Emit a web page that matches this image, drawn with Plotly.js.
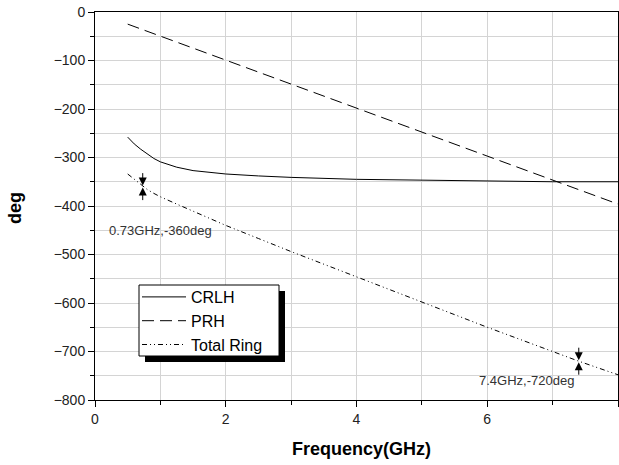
<!DOCTYPE html>
<html><head><meta charset="utf-8">
<script src="https://cdn.plot.ly/plotly-3.0.1.min.js"></script>
<style>html,body{margin:0;padding:0;background:#fff}</style>
</head><body><div id="chart" style="width:619px;height:465px"></div>
<script>
const freqCRLH = [0.5,0.6,0.7,0.8,0.9,1.0,1.25,1.5,2,2.5,3,4,5,6,7,8];
const crlh = [-258,-272,-283,-293,-302,-309,-320,-327,-334,-338,-341,-345,-347,-349,-350,-350];
const freqPRH = [0.5,2,4,6,8];
const prh = [-25,-99,-198,-297,-396];
const freqTotal = [0.5,0.6,0.73,0.8,0.9,1.0,1.25,1.5,2,2.5,3,4,5,6,7,7.4,8];
const total = [-334,-345,-360,-366,-374,-381,-396,-411,-440,-467,-494,-546,-598,-650,-700,-720,-748];
const markers = [{f:0.73, d:-360, label:'0.73GHz,-360deg', lx:1.0, ly:-450},
                 {f:7.4, d:-720, label:'7.4GHz,-720deg', lx:6.6, ly:-760}];

const font = 'Arial, "Liberation Sans", sans-serif';
const traces = [
 {x:freqCRLH, y:crlh, name:'CRLH', mode:'lines', line:{color:'#000', width:1, dash:'solid'}},
 {x:freqPRH, y:prh, name:'PRH', mode:'lines', line:{color:'#000', width:1, dash:'12px,6px'}},
 {x:freqTotal, y:total, name:'Total Ring', mode:'lines', line:{color:'#000', width:1, dash:'5px,3px,1px,3px,1px,3px'}}
];
const annotations = [];
markers.forEach(m => {
  annotations.push({x:m.f, y:m.d, xref:'x', yref:'y', text:'', showarrow:true, ax:0, ay:-15, arrowhead:2, arrowsize:1.6, arrowwidth:1, arrowcolor:'#000', standoff:1});
  annotations.push({x:m.f, y:m.d, xref:'x', yref:'y', text:'', showarrow:true, ax:0, ay:15, arrowhead:2, arrowsize:1.6, arrowwidth:1, arrowcolor:'#000', standoff:1});
  annotations.push({x:m.lx, y:m.ly, xref:'x', yref:'y', text:m.label, showarrow:false, font:{family:font, size:13, color:'#333'}});
});
const L = 95, R = 618, T = 12, B = 400;
const px = v => (v-L)/(R-L), py = v => (B-v)/(B-T);
annotations.push({xref:'paper', yref:'paper', x:px(361), y:py(449), xanchor:'center', yanchor:'middle', showarrow:false,
  text:'<b>Frequency(GHz)</b>', font:{family:font, size:18, color:'#000'}});
annotations.push({xref:'paper', yref:'paper', x:px(15), y:py(208), xanchor:'center', yanchor:'middle', showarrow:false, textangle:-90,
  text:'<b>deg</b>', font:{family:font, size:18, color:'#000'}});

const layout = {
  width:619, height:465,
  margin:{l:L, r:619-R, t:T, b:465-B},
  paper_bgcolor:'#fff', plot_bgcolor:'#fff',
  showlegend:true,
  legend:{x:px(137), y:py(280), xanchor:'left', yanchor:'top', bgcolor:'rgba(0,0,0,0)', borderwidth:0,
          itemwidth:44, font:{family:font, size:16, color:'#000'}, tracegroupgap:0},
  xaxis:{range:[0,8], dtick:2, tick0:0, showgrid:true, gridcolor:'#d4d4d4', gridwidth:1, zeroline:false,
         showline:true, linecolor:'#000', linewidth:1, mirror:true, ticks:'outside', ticklen:6, tickcolor:'#000',
         tickfont:{family:font, size:14, color:'#222'},
         minor:{dtick:1, showgrid:true, gridcolor:'#d4d4d4', ticks:'outside', ticklen:4, tickcolor:'#000'}},
  yaxis:{range:[-800,0], dtick:100, tick0:0, showgrid:true, gridcolor:'#d4d4d4', gridwidth:1, zeroline:false,
         showline:true, linecolor:'#000', linewidth:1, mirror:true, ticks:'outside', ticklen:6, tickcolor:'#000',
         tickfont:{family:font, size:14, color:'#222'},
         minor:{dtick:50, showgrid:true, gridcolor:'#d4d4d4', ticks:'outside', ticklen:4, tickcolor:'#000'}},
  shapes:[
    {type:'rect', xref:'paper', yref:'paper', x0:px(145), x1:px(285), y0:py(362), y1:py(291), fillcolor:'#000', line:{width:0}, layer:'above'},
    {type:'rect', xref:'paper', yref:'paper', x0:px(139), x1:px(279), y0:py(356), y1:py(285), fillcolor:'#fff', line:{width:1, color:'#000'}, layer:'above'}
  ],
  annotations:annotations
};
Plotly.newPlot('chart', traces, layout, {displayModeBar:false, staticPlot:true});
</script></body></html>
